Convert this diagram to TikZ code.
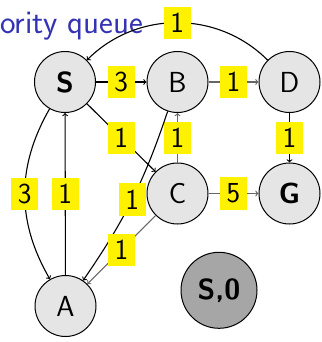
\documentclass[tikz,border=0pt]{standalone}
\usepackage{fontspec}
\setmainfont{Latin Modern Sans}
\definecolor{titleblue}{RGB}{51,51,179}
\definecolor{labyellow}{RGB}{255,242,0}
\begin{document}
\begin{tikzpicture}[x=1pt,y=1pt,
  vert/.style={circle,draw,line width=1pt,fill=black!10,minimum size=61pt,inner sep=0pt,font=\fontsize{29}{29}\selectfont},
  qnode/.style={circle,draw,line width=1pt,fill=black!35,minimum size=76pt,inner sep=0pt,font=\fontsize{29}{29}\selectfont\bfseries},
  lab/.style={fill=labyellow,inner xsep=6.8pt,inner ysep=6.4pt,font=\fontsize{29}{29}\selectfont,text=black},
  edge/.style={->,line width=1.1pt,draw=black},
  gedge/.style={->,line width=1.1pt,draw=black!60},
]
\useasboundingbox (0,0) rectangle (321,-342);
\node[anchor=base west,inner sep=0pt,text=titleblue,font=\fontsize{33}{33}\selectfont] (title) at (0,-33.3) {ority queue};
\node[vert] (S) at (65,-82) {\textbf{S}};
\node[vert] (B) at (177.5,-82) {B};
\node[vert] (D) at (289.5,-82) {D};
\node[vert] (C) at (177.5,-193.5) {C};
\node[vert] (G) at (289.5,-193.5) {\textbf{G}};
\node[vert] (A) at (65.5,-306) {A};
\node[qnode] (Q) at (219,-290.3) {S,0};

\draw[edge] (S) -- node[lab] {3} (B);
\draw[gedge] (B) -- node[lab] {1} (D);
\draw[edge] (D) to[bend right=45] node[lab] {1} (S);
\draw[edge] (D) -- node[lab] {1} (G);
\draw[edge] (S) -- node[lab] {1} (C);
\draw[gedge] (C) -- node[lab] {1} (B);
\draw[gedge] (C) -- node[lab] {5} (G);
\draw[edge] (S) to[bend right=30] node[lab] {3} (A);
\draw[edge] (A) -- node[lab] {1} (S);
\draw[edge] (B) to[bend left=8] node[lab] {1} (A);
\draw[gedge] (C) -- node[lab] {1} (A);
\end{tikzpicture}
\end{document}
